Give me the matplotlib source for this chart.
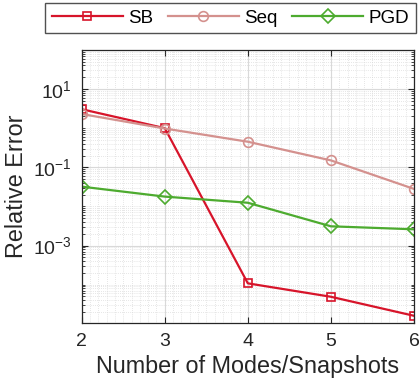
import numpy as np
import matplotlib.pyplot as plt
from matplotlib.ticker import FixedLocator, LogLocator, MultipleLocator, NullFormatter

plt.rcParams['font.family'] = ['Liberation Sans', 'DejaVu Sans']
plt.rcParams['mathtext.fontset'] = 'custom'
plt.rcParams['mathtext.rm'] = 'Liberation Sans'
plt.rcParams['mathtext.it'] = 'Liberation Sans'

# error vs. number of modes / snapshots
n_modes = [2, 3, 4, 5, 6]
err_sb = [3.05, 1.0, 1.08e-4, 4.9e-5, 1.6e-5]
err_seq = [2.3, 0.98, 0.45, 0.15, 0.028]
err_pgd = [0.032, 0.0178, 0.0124, 0.0031, 0.0026]

fig = plt.figure(figsize=(4.19, 3.84), dpi=100)
ax = fig.add_axes([0.195, 0.159, 0.793, 0.711])

ax.semilogy(n_modes, err_sb, '-s', color='#d7142a', lw=1.6, ms=6,
            mfc='none', mew=1.2, label='SB')
ax.semilogy(n_modes, err_seq, '-o', color='#d4918e', lw=1.6, ms=7,
            mfc='none', mew=1.2, label='Seq')
ax.semilogy(n_modes, err_pgd, '-D', color='#4dab2f', lw=1.6, ms=7,
            mfc='none', mew=1.2, label='PGD')

ax.set_xlim(2, 6)
ax.set_ylim(1.05e-5, 1e2)
ax.xaxis.set_major_locator(MultipleLocator(1))
ax.xaxis.set_minor_locator(MultipleLocator(0.1))
ax.yaxis.set_major_locator(FixedLocator([1e-3, 1e-1, 1e1]))
ax.yaxis.set_minor_locator(LogLocator(base=10, subs=np.arange(1, 10), numticks=20))
ax.yaxis.set_minor_formatter(NullFormatter())

ax.grid(True, which='major', color='#d9d9d9', lw=0.8, ls='-')
ax.grid(True, which='minor', color='#cfcfcf', lw=0.5, ls=(0, (1, 2)))
ax.set_axisbelow(True)

ax.tick_params(which='both', direction='in', top=True, right=True,
               colors='#262626', labelsize=14)
ax.tick_params(which='minor', axis='x', length=0)
ax.tick_params(which='minor', axis='y', length=2)
ax.tick_params(which='major', length=4, pad=7)
for s in ax.spines.values():
    s.set_color('#262626')
    s.set_linewidth(0.9)

ax.set_xlabel('Number of Modes/Snapshots', fontsize=16.8, color='#262626',
              labelpad=4)
ax.set_ylabel('Relative Error', fontsize=16.8, color='#262626', labelpad=4)

fig.legend(loc='upper right', bbox_to_anchor=(0.993, 0.992), ncol=3,
           fontsize=13.5, frameon=True, fancybox=False, edgecolor='#262626',
           handlelength=3.8, columnspacing=0.75, handletextpad=0.3,
           borderpad=0.35, borderaxespad=0.0)

fig.savefig('out.png', dpi=100)
